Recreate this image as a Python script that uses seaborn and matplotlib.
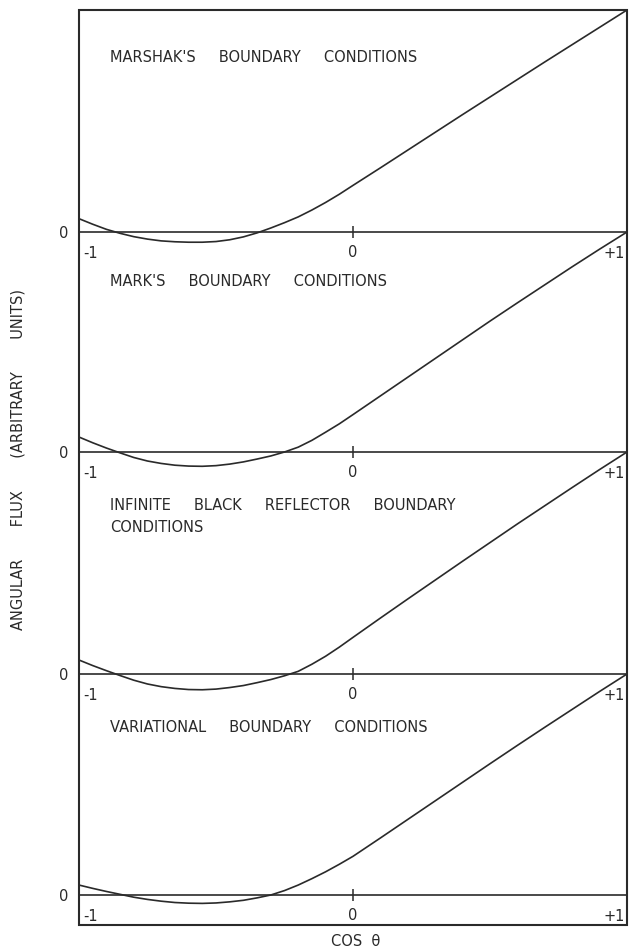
import matplotlib
matplotlib.use("Agg")
import matplotlib.pyplot as plt
import matplotlib.transforms as mtransforms
from matplotlib.patches import Rectangle
import seaborn as sns
import pandas as pd

# cos(theta) sample points shared by all four solutions
mu = [-1.0, -0.95, -0.9, -0.85, -0.8, -0.75, -0.7, -0.65, -0.6, -0.55, -0.5,
      -0.45, -0.4, -0.35, -0.3, -0.25, -0.2, -0.15, -0.1, -0.05, 0.0,
      0.1, 0.2, 0.3, 0.4, 0.5, 0.6, 0.7, 0.8, 0.9, 1.0]

# angular flux (arbitrary units, normalised to 1 at cos(theta) = +1)
flux_marshak = [0.060, 0.035, 0.012, -0.006, -0.021, -0.032, -0.040, -0.044, -0.046, -0.046, -0.043,
                -0.035, -0.022, -0.004, 0.018, 0.042, 0.068, 0.099, 0.133, 0.170, 0.210,
                0.289, 0.369, 0.449, 0.529, 0.608, 0.687, 0.766, 0.844, 0.922, 1.000]
flux_mark = [0.068, 0.042, 0.018, -0.004, -0.025, -0.041, -0.052, -0.060, -0.064, -0.065, -0.062,
             -0.055, -0.045, -0.032, -0.018, 0.000, 0.022, 0.053, 0.090, 0.128, 0.170,
             0.255, 0.340, 0.425, 0.510, 0.595, 0.678, 0.760, 0.842, 0.922, 1.000]
flux_black = [0.063, 0.038, 0.015, -0.007, -0.028, -0.045, -0.057, -0.065, -0.070, -0.071, -0.068,
              -0.061, -0.052, -0.039, -0.025, -0.008, 0.012, 0.044, 0.080, 0.121, 0.165,
              0.252, 0.338, 0.423, 0.508, 0.592, 0.676, 0.758, 0.840, 0.921, 1.000]
flux_variational = [0.045, 0.030, 0.016, 0.003, -0.010, -0.020, -0.028, -0.034, -0.037, -0.038, -0.036,
                    -0.031, -0.024, -0.013, 0.000, 0.020, 0.045, 0.074, 0.105, 0.139, 0.175,
                    0.258, 0.342, 0.426, 0.510, 0.594, 0.677, 0.759, 0.840, 0.921, 1.000]

panel_titles = [
    ["MARSHAK'S     BOUNDARY     CONDITIONS"],
    ["MARK'S     BOUNDARY     CONDITIONS"],
    ["INFINITE     BLACK     REFLECTOR     BOUNDARY", "CONDITIONS"],
    ["VARIATIONAL     BOUNDARY     CONDITIONS"],
]
panel_flux = [flux_marshak, flux_mark, flux_black, flux_variational]
x_ticks = [-1, 0, 1]
x_tick_labels = ["-1", "0", "+1"]

sns.set_theme(style="white")
plt.rcParams["font.family"] = ["DejaVu Sans"]
ink = "#2a2a2a"
fs = 10.5

W, H = 630, 950
fig = plt.figure(figsize=(W / 100, H / 100), dpi=100)
fig.patch.set_facecolor("white")

left_px, right_px = 79, 627
tops = [10, 232, 452, 674]
zeros = [232, 452, 674, 895]
bottom_px = 925
title_y = [[0.788], [0.773], [0.761, 0.662], [0.756]]

for i in range(4):
    top, zero = tops[i], zeros[i]
    low = zero if i < 3 else bottom_px
    ax = fig.add_axes([left_px / W, 1 - low / H, (right_px - left_px) / W, (low - top) / H])
    ax.set_facecolor("none")

    df = pd.DataFrame({"mu": mu, "flux": panel_flux[i]})
    sns.lineplot(data=df, x="mu", y="flux", ax=ax, color=ink, linewidth=1.2,
                 clip_on=False, sort=True)

    ax.set_xlim(-1, 1)
    ax.set_ylim(-(low - zero) / (zero - top), 1)
    for side in ["top", "left", "right"]:
        ax.spines[side].set_visible(False)
    ax.spines["bottom"].set_position(("data", 0))
    ax.spines["bottom"].set_color(ink)
    ax.spines["bottom"].set_linewidth(1.2)

    # tick mark only at cos(theta) = 0; end labels set just inside the frame
    ax.set_xticks([x_ticks[1]])
    ax.set_xticklabels([x_tick_labels[1]])
    ax.tick_params(axis="x", bottom=True, direction="inout", length=9, width=1.1,
                   color=ink, pad=5.2, labelsize=fs, labelcolor=ink)
    ax.annotate(x_tick_labels[0], xy=(x_ticks[0], 0), xycoords="data",
                xytext=(3, -9.9), textcoords="offset points",
                ha="left", va="top", fontsize=fs, color=ink)
    ax.annotate(x_tick_labels[2], xy=(x_ticks[2], 0), xycoords="data",
                xytext=(-1.5, -9.9), textcoords="offset points",
                ha="right", va="top", fontsize=fs, color=ink)

    ax.set_yticks([0])
    ax.set_yticklabels(["0"])
    ax.tick_params(axis="y", left=True, length=0, pad=8, labelsize=fs, labelcolor=ink)
    ax.set_xlabel("")
    ax.set_ylabel("")

    trans = mtransforms.blended_transform_factory(ax.transAxes, ax.transData)
    for line, yy in zip(panel_titles[i], title_y[i]):
        ax.text(0.057, yy, line, transform=trans, ha="left", va="center",
                fontsize=fs, color=ink)

# outer frame round the stacked panels
fig.add_artist(Rectangle((left_px / W, 1 - bottom_px / H), (right_px - left_px) / W,
                         (bottom_px - tops[0]) / H, transform=fig.transFigure,
                         fill=False, edgecolor=ink, linewidth=1.5))

fig.text(18 / W, 1 - 459 / H, "ANGULAR       FLUX       (ARBITRARY       UNITS)",
         rotation=90, ha="center", va="center", fontsize=fs, color=ink)
fig.text(356 / W, 1 - 941 / H, "COS  θ", ha="center", va="center",
         fontsize=fs, color=ink)

fig.savefig("out.png", dpi=100)
